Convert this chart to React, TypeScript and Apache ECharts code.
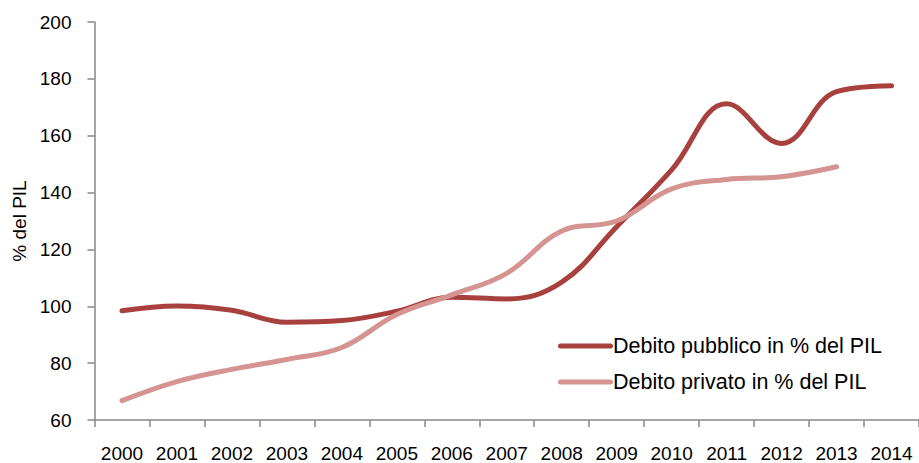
import React, { useEffect, useRef } from "react";
import * as echarts from "echarts";

const years = ["2000","2001","2002","2003","2004","2005","2006","2007","2008","2009","2010","2011","2012","2013","2014"];
const debitoPubblico = [98.4, 100.1, 98.6, 94.4, 95.0, 98.3, 103.2, 102.6, 108.5, 128.0, 148.0, 171.2, 157.3, 175.5, 177.6];
const debitoPrivato = [66.8, 73.5, 77.8, 81.3, 85.5, 97.1, 104.0, 111.6, 126.5, 130.0, 141.3, 144.6, 145.6, 149.1];
const yTicks = { min: 60, max: 200, interval: 20 };
const seriesNames = ["Debito pubblico in % del PIL", "Debito privato in % del PIL"];
const yAxisName = "% del PIL";

const AXIS_FONT = "'Liberation Sans', Arial, sans-serif";
const TEXT_FONT = "'Liberation Sans', Arial, sans-serif";
const axisColor = "#878787";
const stadium = "path://M2.5,0 L52.5,0 A2.5,2.5 0 0 1 52.5,5 L2.5,5 A2.5,2.5 0 0 1 2.5,0 Z";

export default function App() {
  const ref = useRef<HTMLDivElement>(null);
  useEffect(() => {
    if (!ref.current) return;
    const chart = echarts.init(ref.current, undefined, { renderer: "svg" });
    chart.setOption({
      animation: false,
      backgroundColor: "#ffffff",
      grid: { left: 94.5, top: 22, right: -12.5, bottom: 38.5, containLabel: false },
      legend: {
        orient: "vertical",
        left: 553,
        top: 329,
        itemWidth: 55,
        itemHeight: 5,
        itemGap: 12,
        icon: stadium,
        data: seriesNames,
        textStyle: { fontFamily: TEXT_FONT, fontSize: 21.5, color: "#000", lineHeight: 24, padding: [0, 0, 0, -5] },
      },
      xAxis: {
        type: "category",
        data: years,
        boundaryGap: true,
        axisLine: { show: true, lineStyle: { color: axisColor, width: 1.5 } },
        axisTick: { show: true, interval: 0, length: 7, lineStyle: { color: axisColor, width: 1.5 } },
        axisLabel: { interval: 0, margin: 24, fontFamily: AXIS_FONT, fontSize: 19, color: "#000" },
        splitLine: { show: false },
      },
      yAxis: {
        type: "value",
        min: yTicks.min,
        max: yTicks.max,
        interval: yTicks.interval,
        name: yAxisName,
        nameLocation: "middle",
        nameRotate: 90,
        nameGap: 60,
        nameTextStyle: { fontFamily: TEXT_FONT, fontSize: 19, color: "#000" },
        axisLine: { show: true, lineStyle: { color: axisColor, width: 1.5 } },
        axisTick: { show: true, length: 7, lineStyle: { color: axisColor, width: 1.5 } },
        axisLabel: { margin: 23, fontFamily: AXIS_FONT, fontSize: 19, color: "#000" },
        splitLine: { show: false },
      },
      series: [
        {
          name: seriesNames[0],
          type: "line",
          data: debitoPubblico,
          smooth: 0.4,
          symbol: "none",
          lineStyle: { color: "#A8413E", width: 5, cap: "round", join: "round" },
          itemStyle: { color: "#A8413E" },
        },
        {
          name: seriesNames[1],
          type: "line",
          data: debitoPrivato,
          smooth: 0.4,
          symbol: "none",
          lineStyle: { color: "#D59392", width: 5, cap: "round", join: "round" },
          itemStyle: { color: "#D59392" },
        },
      ],
    });
    return () => chart.dispose();
  }, []);
  return (
    <div
      ref={ref}
      style={{ position: "fixed", left: 0, top: 0, width: 919, height: 463, background: "#fff" }}
    />
  );
}
